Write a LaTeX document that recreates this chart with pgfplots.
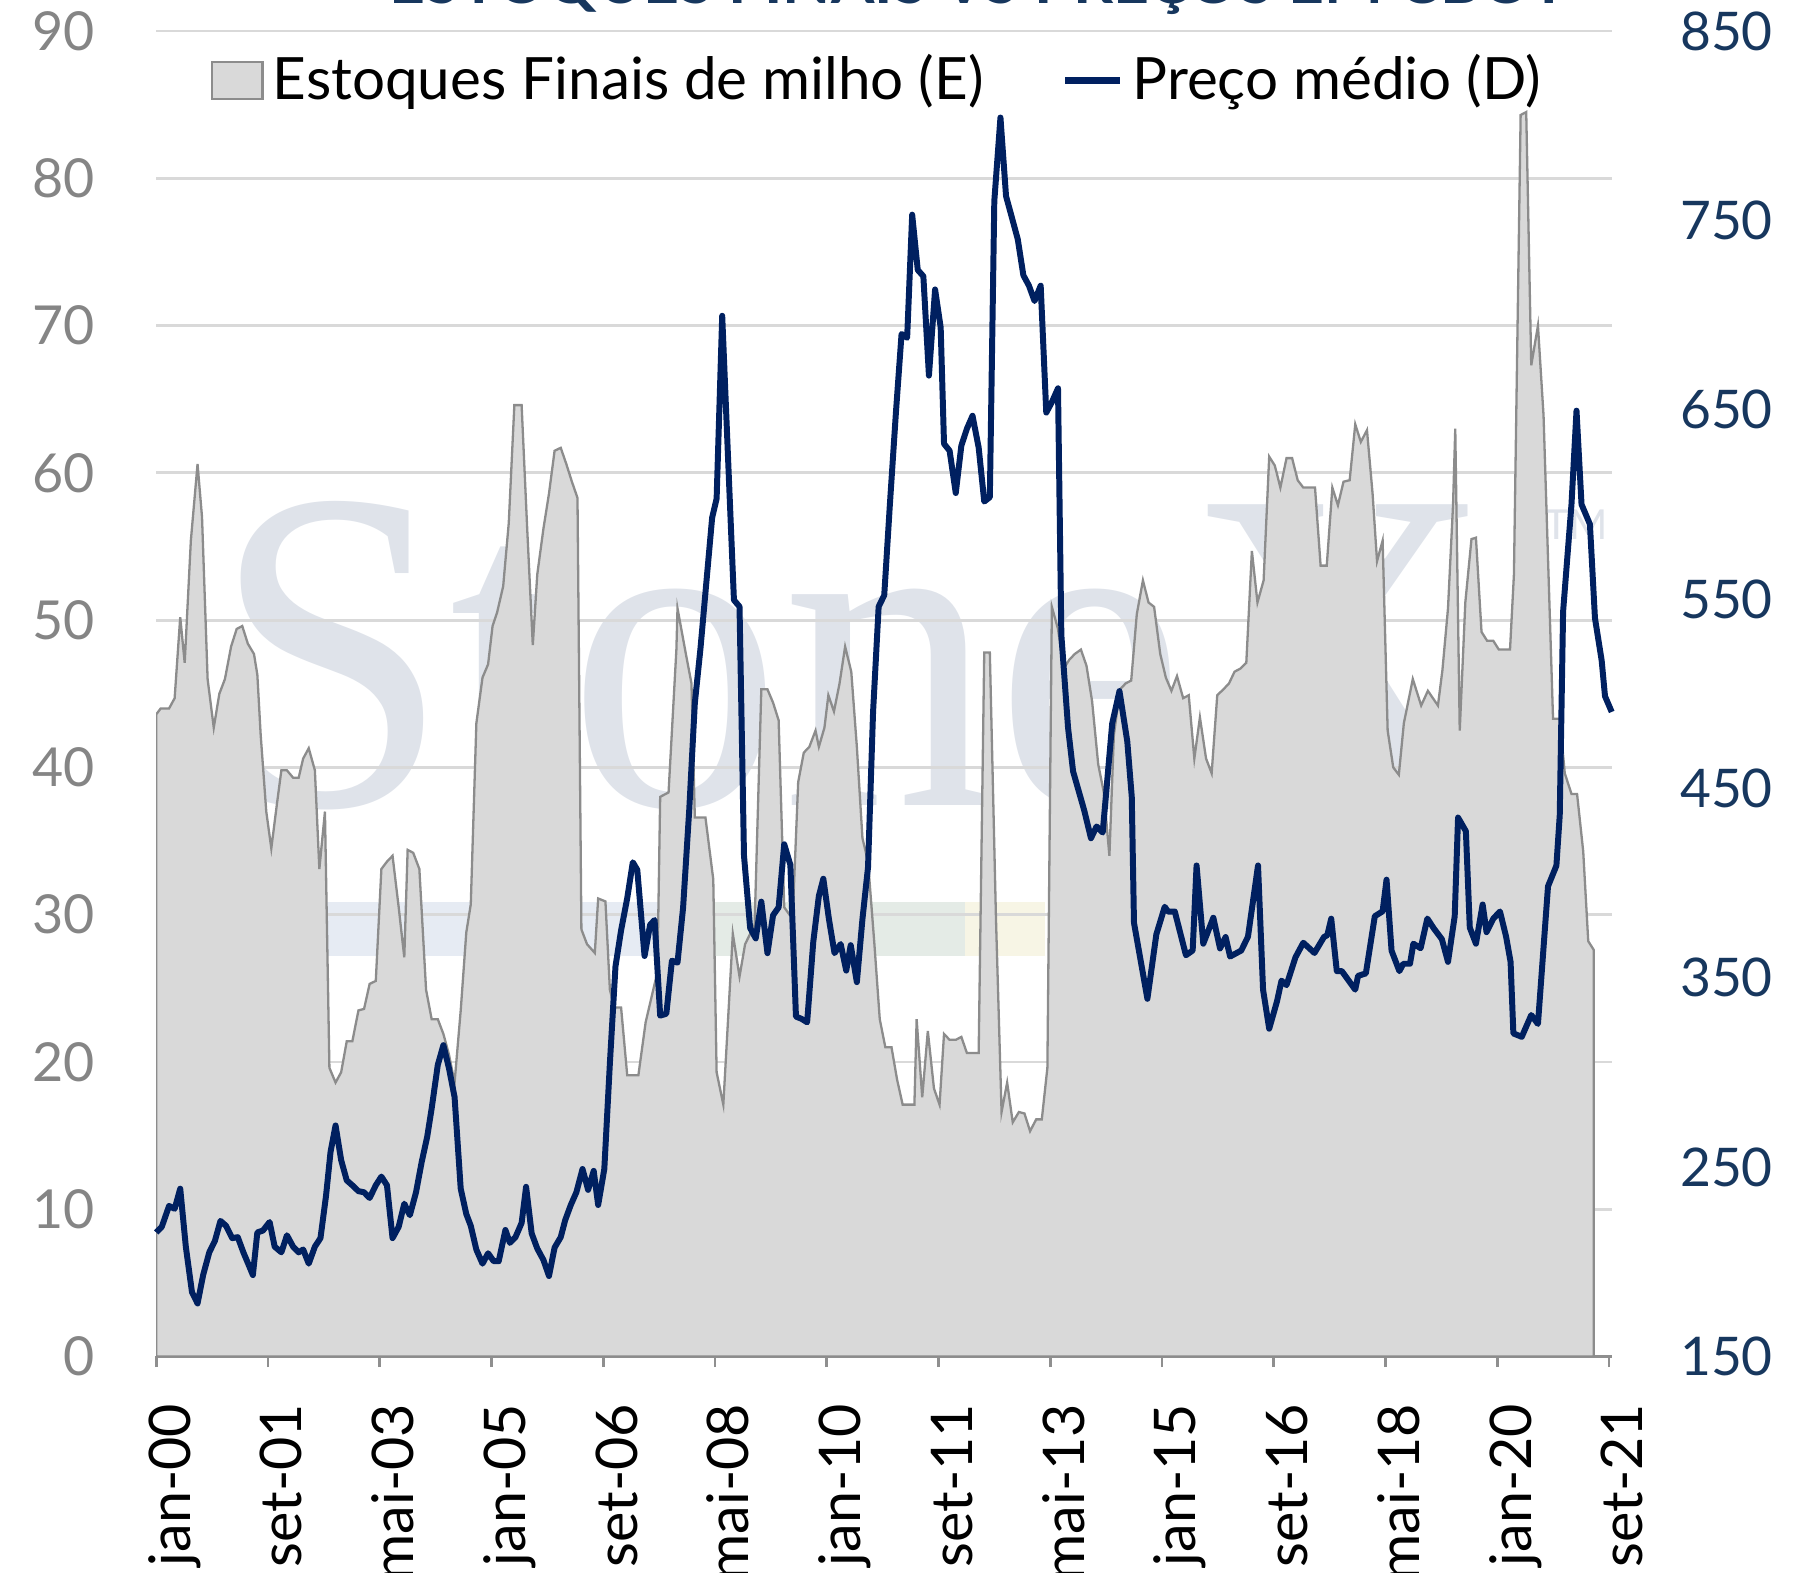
\documentclass[border=0pt]{standalone}
\usepackage{fontspec}
\setmainfont{Lato}
\newfontfamily\wmfont{Liberation Serif}
\usepackage{pgfplots}
\pgfplotsset{compat=1.18}
\definecolor{areagray}{HTML}{D9D9D9}
\definecolor{edgegray}{HTML}{8C8C8C}
\definecolor{navyline}{HTML}{002060}
\definecolor{navylbl}{HTML}{17375E}
\definecolor{lblgray}{HTML}{858585}
\definecolor{gridc}{HTML}{D9D9D9}
\definecolor{axisgray}{HTML}{8F8F8F}
\definecolor{wm}{HTML}{DFE3EA}
\definecolor{wmblue}{HTML}{E6EBF3}
\definecolor{wmgreen}{HTML}{E4EBE6}
\definecolor{wmyellow}{HTML}{F7F5E5}
\begin{document}
\begin{tikzpicture}
% watermark (behind everything)
\fill[wmblue] (37.25pt,87.25pt) rectangle (116pt,99pt);
\fill[wmgreen] (116pt,87.25pt) rectangle (176pt,99pt);
\fill[wmyellow] (176pt,87.25pt) rectangle (193.5pt,99pt);
\node[anchor=base west, inner sep=0pt, text=wm, font=\wmfont\fontsize{100}{100}\selectfont, xscale=0.93] at (12pt,120pt) {StoneX};
\node[anchor=base west, inner sep=0pt, text=wm, font=\fontsize{9}{9}\selectfont] at (302pt,177.75pt) {TM};
\begin{axis}[
  name=ax1,
  scale only axis,
  width=316.8pt, height=288.5pt,
  xmin=0, xmax=260.5,
  ymin=0, ymax=90,
  axis x line*=bottom,
  axis y line*=left,
  y axis line style={draw=none},
  x axis line style={draw=axisgray, line width=0.8pt},
  xtick={0,20,...,260},
  xticklabels={jan-00,set-01,mai-03,jan-05,set-06,mai-08,jan-10,set-11,mai-13,jan-15,set-16,mai-18,jan-20,set-21},
  xtick style={draw=axisgray, line width=0.6pt},
  tick align=outside,
  major tick length=2.3pt,
  xticklabel style={font=\fontsize{12.5}{14}\selectfont, text=black, anchor=base east, inner sep=0pt, xshift=7.4pt, yshift=-7.8pt, rotate=90},
  ytick={0,10,...,90},
  ytick style={draw=none},
  yticklabel style={font=\fontsize{11.7}{14}\selectfont, text=lblgray, inner sep=0pt, xshift=-10.8pt},
  /pgf/number format/assume math mode=true,
  ymajorgrids,
  grid style={draw=gridc, line width=0.6pt},
]
\addplot[fill=areagray, draw=edgegray, line width=0.5pt] table {
x y
0 43.6
0.8 44.0
2.3 44.0
3.3 44.7
4.3 50.2
5.1 47.1
6.2 55.4
7.4 60.6
8.2 57.0
9.2 46.0
10.3 42.7
11.3 45.0
12.3 46.0
13.4 48.2
14.4 49.4
15.4 49.6
16.4 48.4
17.5 47.7
18.1 46.3
18.7 42.2
19.7 37.0
20.6 34.5
21.6 37.5
22.4 39.8
23.4 39.8
24.5 39.3
25.5 39.3
26.3 40.6
27.3 41.3
28.4 39.8
29.2 33.1
30.2 37.0
31.0 19.6
32.1 18.6
33.1 19.3
34.1 21.4
35.1 21.4
36.2 23.5
37.2 23.6
38.2 25.3
39.3 25.5
40.3 33.1
41.3 33.6
42.3 34.0
43.4 30.5
44.4 27.1
45.0 34.4
46.0 34.2
47.1 33.1
48.3 24.9
49.3 22.9
50.4 22.9
51.4 21.9
52.4 20.5
53.4 18.6
54.5 23.5
55.5 28.8
56.3 30.7
57.3 43.0
58.4 46.1
59.4 47.0
60.2 49.6
61.0 50.5
62.1 52.3
63.1 56.6
64.1 64.6
65.4 64.6
66.4 56.2
67.4 48.3
68.2 53.1
69.3 56.2
70.3 58.6
71.3 61.5
72.4 61.7
73.4 60.6
74.4 59.4
75.4 58.3
76.1 29.0
77.1 28.0
78.5 27.4
79.1 31.1
80.4 30.9
81.2 24.9
82.0 23.7
83.2 23.7
84.3 19.1
86.3 19.1
87.6 22.7
89.7 26.1
90.2 38.0
91.7 38.3
93.1 48.0
93.3 50.8
94.8 47.7
95.8 45.7
96.4 36.6
98.3 36.6
99.7 32.4
100.3 19.3
101.5 17.1
103.2 28.7
104.4 25.8
105.4 28.0
107.1 29.3
108.3 45.3
109.4 45.3
110.4 44.4
111.4 43.2
112.4 30.5
113.9 29.7
114.9 39.0
115.9 41.0
116.9 41.4
118.0 42.5
118.6 41.4
119.6 42.7
120.3 44.9
121.3 43.8
122.3 45.7
123.3 48.2
124.4 46.5
125.4 41.4
126.4 35.2
127.4 33.6
128.5 28.2
129.5 22.9
130.5 21.0
131.6 21.0
132.6 18.8
133.6 17.1
135.7 17.1
136.1 22.9
137.1 17.6
138.1 22.1
139.2 18.2
140.2 17.1
141.0 21.9
142.0 21.5
143.1 21.5
144.1 21.7
145.1 20.6
147.2 20.6
148.2 47.8
149.2 47.8
150.3 29.7
151.3 16.6
152.3 18.6
153.3 15.9
154.4 16.6
155.4 16.5
156.4 15.3
157.5 16.1
158.5 16.1
159.5 19.6
160.3 50.9
161.4 49.4
162.4 46.7
163.4 47.3
164.4 47.7
165.5 48.0
166.5 46.9
167.5 44.5
168.6 40.2
169.6 38.3
170.6 34.0
171.4 42.2
172.5 45.3
173.5 45.7
174.5 45.9
175.5 50.4
176.6 52.7
177.6 51.2
178.6 50.9
179.7 47.7
180.7 46.1
181.7 45.2
182.7 46.2
183.8 44.7
184.8 44.9
185.8 40.6
186.8 43.4
187.9 40.6
188.9 39.6
189.9 44.9
191.0 45.3
192.0 45.7
193.0 46.5
194.0 46.7
195.1 47.1
196.1 54.7
197.1 51.2
198.2 52.7
199.2 61.1
200.2 60.5
201.2 59.0
202.3 61.0
203.3 61.0
204.3 59.5
205.3 59.0
207.4 59.0
208.4 53.7
209.5 53.7
210.5 59.0
211.5 57.8
212.5 59.4
213.6 59.5
214.6 63.3
215.6 62.1
216.7 62.9
217.7 58.6
218.5 54.0
219.5 55.4
220.4 42.5
221.4 40.0
222.4 39.5
223.3 43.0
224.9 46.0
226.4 44.2
227.6 45.2
229.4 44.2
230.2 46.6
231.2 50.8
232.1 57.8
232.5 63.0
233.3 42.5
234.3 51.2
235.4 55.5
236.2 55.6
237.2 49.2
238.2 48.6
239.3 48.6
240.3 48.0
242.3 48.0
243.0 53.1
244.2 84.3
245.2 84.5
246.1 67.3
247.3 70.0
248.3 63.9
250.0 43.3
251.2 43.3
252.1 39.6
253.3 38.2
254.3 38.2
255.4 34.3
256.3 28.2
257.3 27.6
} \closedcycle;
\end{axis}
\begin{axis}[
  scale only axis,
  width=316.8pt, height=288.5pt,
  xmin=0, xmax=260.5,
  ymin=150, ymax=850,
  axis x line=none,
  axis y line*=right,
  y axis line style={draw=none},
  ytick={150,250,...,850},
  ytick style={draw=none},
  yticklabel style={font=\fontsize{11.6}{14}\selectfont, text=navylbl, inner sep=0pt, xshift=14.7pt},
  /pgf/number format/assume math mode=true,
  clip=false,
  legend style={draw=none, fill=none, at={(0.4977,0.9627)}, anchor=center,
    font=\fontsize{12.7}{14}\selectfont, legend columns=2,
    /tikz/every even column/.append style={column sep=15pt}},
  legend cell align=left,
]
\addlegendimage{legend image code/.code={\draw[fill=areagray, draw=edgegray, line width=0.5pt] (0pt,-4pt) rectangle (11pt,4pt);}}
\addlegendentry{Estoques Finais de milho (E)}
\addplot[navyline, line width=1.3pt, line join=round, legend image code/.code={\draw[navyline, line width=1.4pt] (0pt,0pt) -- (12pt,0pt);}] table {
x y
0.0 215.5
1.0 218.5
2.3 229.5
3.3 228.0
4.3 238.6
5.3 208.0
6.4 184.0
7.4 178.0
8.4 193.0
9.5 205.0
10.5 211.0
11.5 221.6
12.5 219.0
13.6 212.5
14.6 213.0
15.6 205.0
16.6 198.0
17.3 193.0
18.1 215.5
19.1 216.5
20.3 221.0
21.2 208.0
22.4 205.0
23.4 214.0
24.5 208.0
25.5 205.0
26.3 206.5
27.3 199.0
28.4 208.0
29.4 212.5
30.4 235.0
31.2 258.0
32.1 272.0
33.1 253.7
34.1 243.0
35.1 240.4
36.2 237.3
37.2 236.7
38.2 233.7
39.3 240.4
40.3 245.0
41.3 240.4
42.3 212.5
43.4 218.5
44.4 230.7
45.4 224.6
46.5 236.7
47.5 252.5
48.5 266.0
49.3 281.0
50.4 304.0
51.4 314.4
52.4 302.2
53.4 287.0
54.5 238.6
55.5 225.2
56.3 219.0
57.3 206.4
58.4 199.0
59.4 204.5
60.4 200.3
61.3 200.3
62.5 216.8
63.3 210.0
64.3 213.0
65.4 220.5
66.2 239.6
67.2 215.0
68.2 207.0
69.3 201.0
70.3 192.5
71.3 207.5
72.4 213.0
73.2 222.0
74.2 230.0
75.2 236.7
76.3 249.0
77.3 238.0
78.3 248.0
79.1 230.0
80.2 249.0
81.2 305.0
82.2 356.0
83.2 375.0
84.3 392.0
85.3 411.0
86.1 407.0
87.4 361.5
88.4 378.0
89.2 380.5
90.2 330.0
91.3 331.0
92.3 359.0
93.3 358.0
94.3 387.0
95.4 438.7
96.4 495.0
97.4 523.6
98.5 560.0
99.5 593.0
100.3 603.0
101.3 699.6
102.4 620.7
103.4 549.5
104.4 546.0
105.2 414.5
106.3 376.3
107.3 370.8
108.3 390.2
109.4 363.0
110.4 383.0
111.4 387.2
112.4 420.5
113.5 409.6
114.5 329.5
115.5 328.3
116.5 326.5
117.6 369.0
118.6 393.2
119.4 402.3
120.4 381.0
121.4 363.0
122.5 367.8
123.5 353.8
124.3 367.2
125.4 347.7
126.4 381.0
127.4 408.4
128.3 490.3
129.3 546.0
130.3 552.0
131.3 599.5
132.4 648.9
133.4 690.0
134.4 688.0
135.3 753.0
136.3 723.8
137.3 720.5
138.3 668.0
139.4 713.5
140.4 693.5
141.0 632.0
142.0 628.3
143.1 606.0
144.1 631.0
145.1 640.0
146.1 646.8
147.2 630.0
148.2 601.5
149.2 603.8
150.0 760.2
151.1 804.3
152.1 762.8
153.1 752.0
154.2 740.0
155.2 721.0
156.2 715.5
157.2 707.4
158.3 715.5
159.3 648.5
160.3 654.0
161.4 661.3
162.0 531.0
163.2 482.0
164.1 459.0
166.1 438.3
167.3 423.7
168.3 429.9
169.4 426.7
171.1 484.3
172.4 501.4
173.8 474.8
174.6 445.6
175.0 379.0
177.4 338.9
179.0 372.9
180.5 387.5
181.1 384.9
182.3 385.0
184.3 361.9
185.5 364.4
186.2 409.3
187.4 368.0
189.2 381.7
190.4 365.5
191.4 371.5
192.2 361.2
194.2 364.4
195.4 371.7
197.2 409.3
198.1 343.7
199.2 323.1
200.6 337.6
201.4 348.5
202.3 346.1
203.9 360.8
205.3 368.5
207.3 363.1
209.0 371.5
209.6 372.5
210.3 381.2
211.3 353.5
212.2 353.5
214.6 343.7
215.1 351.0
216.5 352.3
218.1 382.5
219.5 385.1
220.2 401.8
221.1 364.3
222.5 353.5
223.2 357.4
224.4 357.4
225.0 368.0
226.3 365.6
227.5 381.3
228.6 376.3
230.1 370.4
231.2 358.4
232.4 382.5
233.0 434.6
234.4 427.4
235.1 376.5
236.2 368.0
237.4 388.7
238.1 374.1
239.3 381.2
240.5 385.0
241.6 371.7
242.4 358.4
242.9 320.6
244.4 318.8
246.1 330.3
247.3 325.6
249.1 398.3
250.6 409.2
251.2 435.9
251.8 543.4
253.3 600.0
254.2 649.5
255.1 600.0
256.6 589.5
257.5 540.0
258.7 517.6
259.3 498.7
260.5 490.4
};
\addlegendentry{Preço médio (D)}
\end{axis}
\node[anchor=base, inner sep=0pt, font=\fontsize{13.6}{15}\selectfont\bfseries, text=navylbl] at (179pt,294.4pt) {ESTOQUES FINAIS VS PREÇOS EM CBOT};
\pgfresetboundingbox
\path[use as bounding box] (-34pt,-47pt) rectangle (358pt,295.25pt);
\end{tikzpicture}
\end{document}
